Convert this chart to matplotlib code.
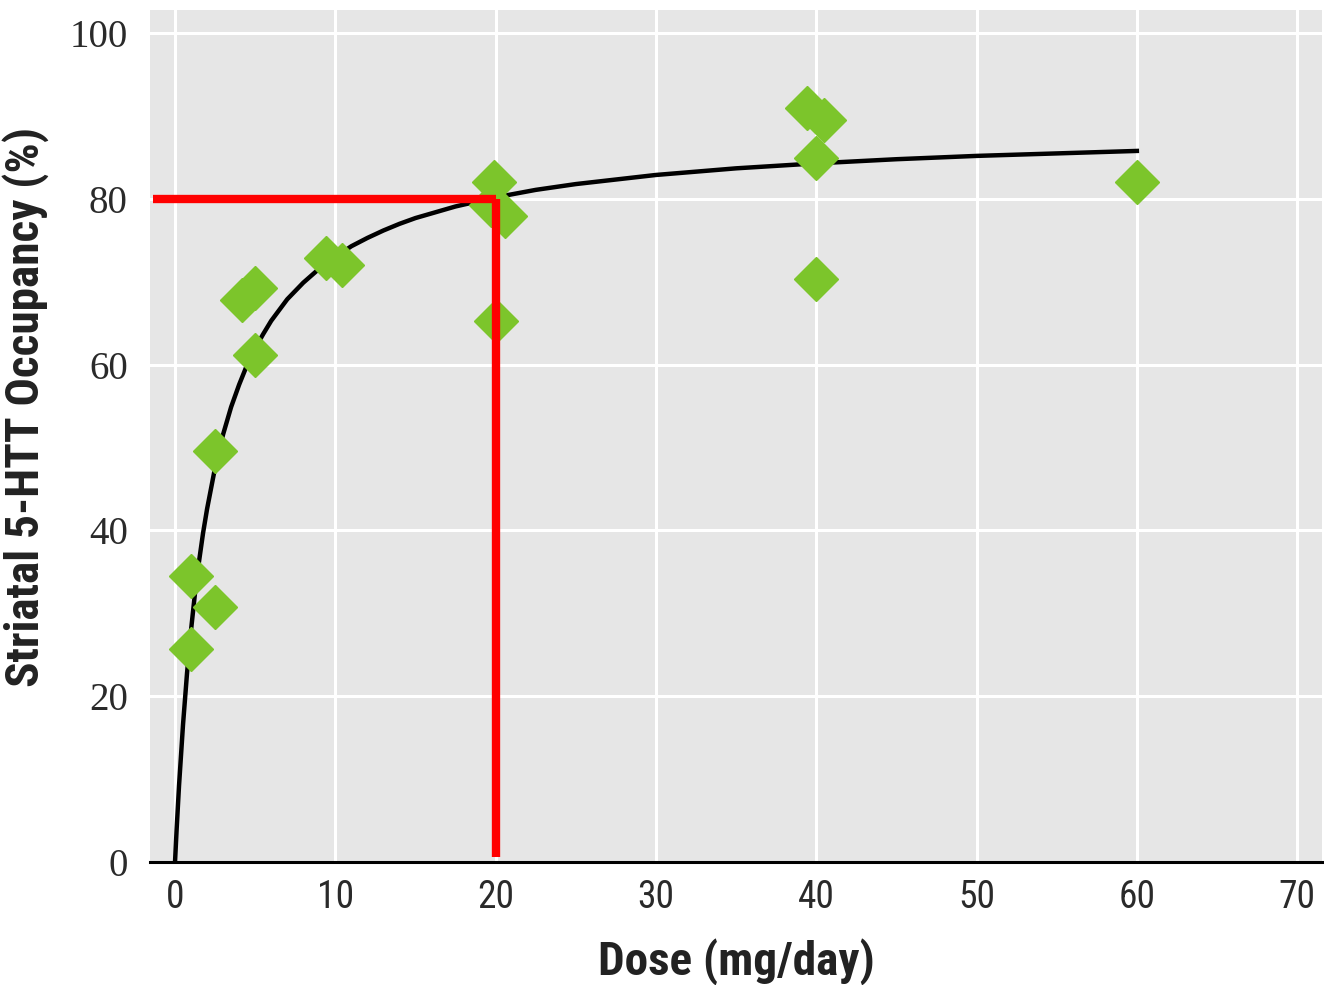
import matplotlib.pyplot as plt
from matplotlib import font_manager

# measured points (dose mg/day, occupancy %)
dose = [1, 1, 2.5, 2.5, 4.2, 5, 5, 9.4, 10.4, 19.9, 19.7, 20.6, 20, 39.4, 40.5, 40, 40, 60]
occ = [34.5, 25.7, 49.6, 30.8, 67.8, 69.2, 61.2, 72.9, 72.0, 82.0, 79.3, 78.0, 65.3, 91.0, 89.5, 84.9, 70.4, 82.0]

# fitted curve
curve_x = [0, 0.1, 0.25, 0.5, 0.75, 1, 1.25, 1.5, 1.75, 2, 2.5, 3, 3.5, 4, 4.5, 5, 5.5, 6, 6.5, 7, 7.5, 8,
           9, 10, 11, 12, 13, 14, 15, 17.5, 20, 22.5, 25, 30, 35, 40, 45, 50, 55, 60]
curve_y = [0, 3.9, 9.2, 16.6, 22.8, 28.0, 32.5, 36.3, 39.7, 42.6, 47.6, 51.6, 54.9, 57.6, 60.0, 62.0, 63.7,
           65.3, 66.6, 67.9, 68.9, 69.9, 71.6, 73.0, 74.3, 75.3, 76.2, 77.0, 77.7, 79.1, 80.2, 81.1, 81.8,
           82.9, 83.7, 84.3, 84.8, 85.2, 85.5, 85.8]

target_occ = 80
target_dose = 20

xticks = [0, 10, 20, 30, 40, 50, 60, 70]
yticks = [0, 20, 40, 60, 80, 100]

names = {f.name for f in font_manager.fontManager.ttflist}
narrow = [n for n in ['Liberation Sans Narrow', 'Roboto Condensed', 'Open Sans Condensed'] if n in names]
cond_fam = narrow + ['DejaVu Sans']

fig = plt.figure(figsize=(13.24, 9.85), dpi=100)
ax = fig.add_axes([0.1133, 0.1249, 0.8852, 0.8649])
ax.set_facecolor('#e6e6e6')

ax.plot(curve_x, curve_y, color='black', lw=3.2, zorder=3, solid_joinstyle='round')
ax.plot(dose, occ, linestyle='none', marker='D', markersize=22, color='#7cc52b', zorder=4)

# red guide lines
ax.plot([-1.4, target_dose], [target_occ, target_occ], color='#ff0000', lw=6, zorder=5, solid_capstyle='butt')
ax.plot([target_dose, target_dose], [target_occ, 0.6], color='#ff0000', lw=6, zorder=5, solid_capstyle='butt')

ax.set_xlim(-1.56, 71.55)
ax.set_ylim(0, 102.8)
ax.set_xticks(xticks)
ax.set_yticks(yticks)
ax.grid(True, color='white', lw=2.2)
ax.set_axisbelow(True)

for s in ['top', 'right', 'left']:
    ax.spines[s].set_visible(False)
ax.spines['bottom'].set_color('black')
ax.spines['bottom'].set_linewidth(2.2)
ax.spines['bottom'].set_zorder(6)

ax.tick_params(axis='both', length=0)
ax.tick_params(axis='x', pad=12)
ax.tick_params(axis='y', pad=16)
for lab in ax.get_xticklabels():
    lab.set_family(cond_fam)
    lab.set_stretch('condensed')
    lab.set_fontsize(27)
    lab.set_color('#2a2a2a')
for lab in ax.get_yticklabels():
    lab.set_family(['Liberation Serif', 'DejaVu Serif'])
    lab.set_fontsize(28)
    lab.set_color('#2a2a2a')

ax.set_xlabel('Dose (mg/day)', fontsize=34, fontweight='bold', fontstretch='condensed',
              family=cond_fam, labelpad=16, color='#222222')
ax.set_ylabel('Striatal 5-HTT Occupancy (%)', fontsize=34, fontweight='bold', fontstretch='condensed',
              family=cond_fam, color='#222222')
ax.yaxis.set_label_coords(-0.086, 0.534)

fig.savefig('out.png', dpi=100)
